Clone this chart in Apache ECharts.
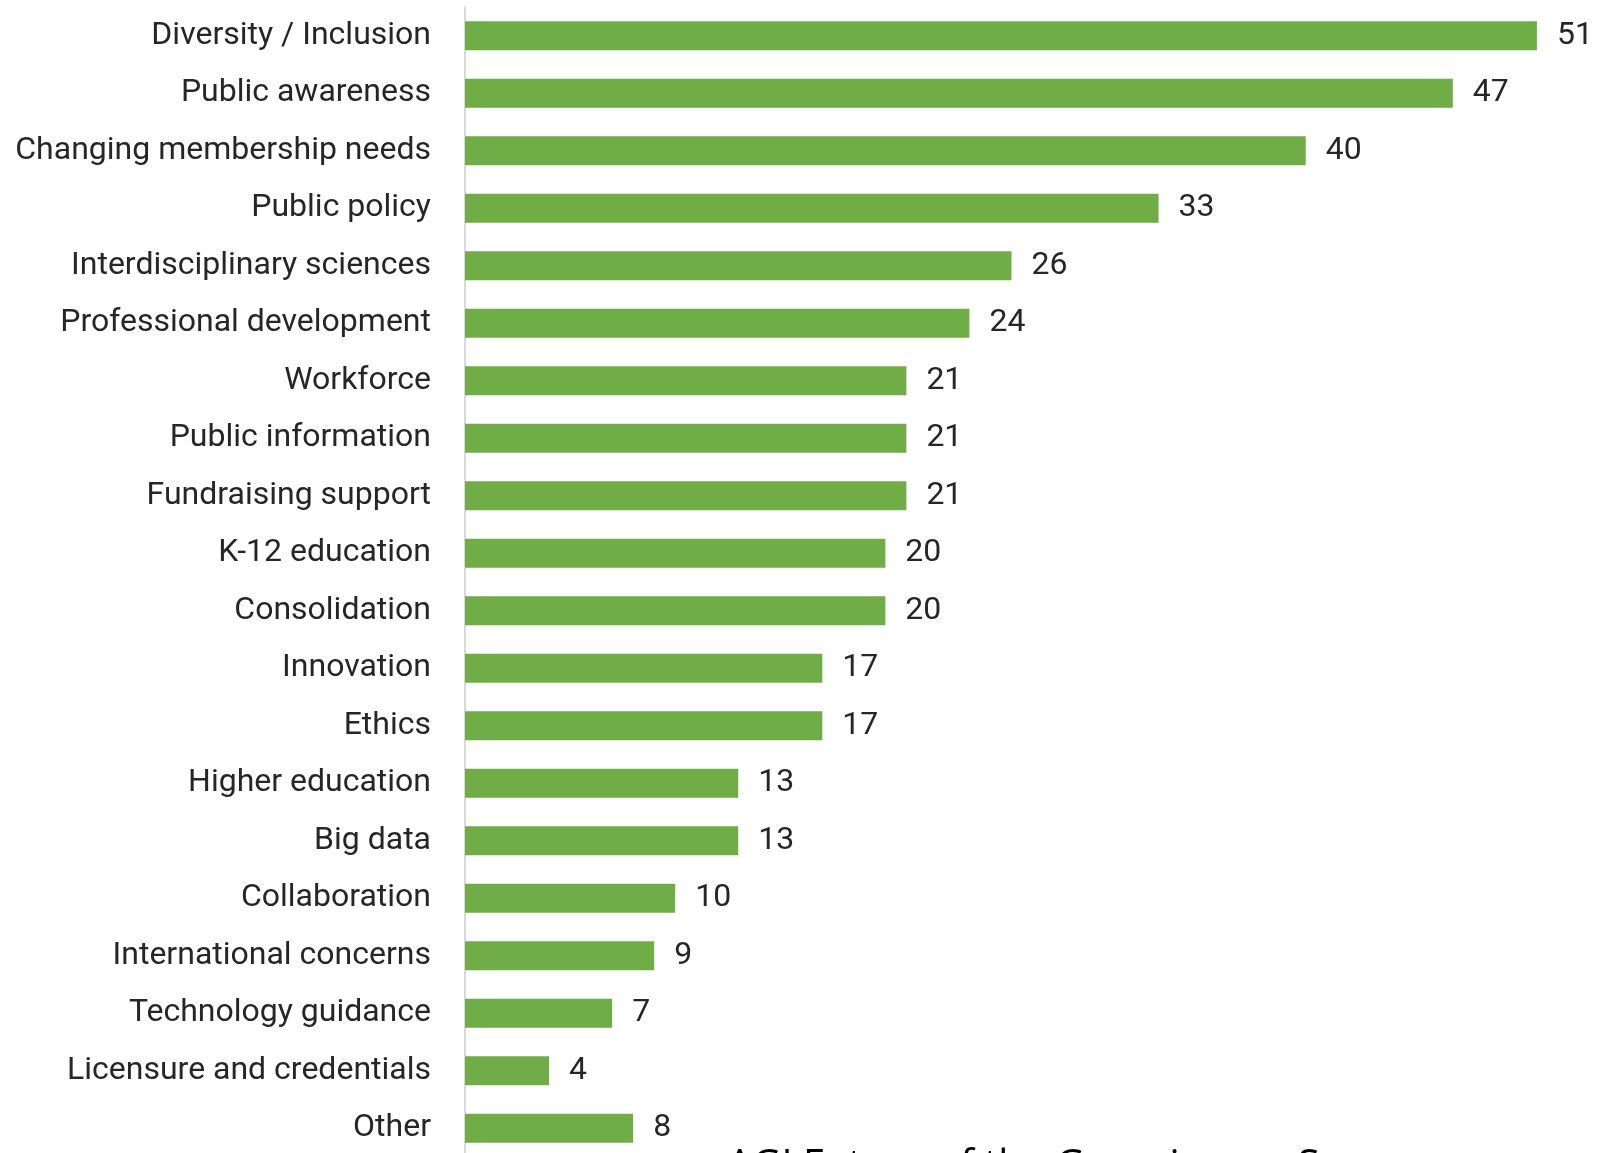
<!DOCTYPE html>
<html>
<head>
<meta charset="utf-8">
<script src="https://cdn.jsdelivr.net/npm/echarts@6/dist/echarts.min.js"></script>
<style>
  html, body { margin: 0; padding: 0; background: #fff; overflow: hidden; }
  #chart { width: 1622px; height: 1162px; }
</style>
</head>
<body>
<div id="chart"></div>
<script>
// categories, top to bottom
const categories = [
  "Diversity / Inclusion",
  "Public awareness",
  "Changing membership needs",
  "Public policy",
  "Interdisciplinary sciences",
  "Professional development",
  "Workforce",
  "Public information",
  "Fundraising support",
  "K-12 education",
  "Consolidation",
  "Innovation",
  "Ethics",
  "Higher education",
  "Big data",
  "Collaboration",
  "International concerns",
  "Technology guidance",
  "Licensure and credentials",
  "Other"
];
const counts = [51, 47, 40, 33, 26, 24, 21, 21, 21, 20, 20, 17, 17, 13, 13, 10, 9, 7, 4, 8];
const footnote = "AGI Future of the Geosciences Survey";

const myChart = echarts.init(document.getElementById("chart"));

const options = {
  animation: false,
  grid: {
    left: 465,
    right: 1,
    top: 7,
    height: 1150,
    containLabel: false,
  },
  xAxis: {
    type: "value",
    min: 0,
    max: 55,
    show: false,
  },
  yAxis: {
    type: "category",
    inverse: true, // first category on top
    data: categories,
    axisTick: { show: false },
    axisLine: { show: true, lineStyle: { color: "#d9d9d9", width: 2 } },
    axisLabel: {
      margin: 34,
      fontFamily: "Roboto",
      fontSize: 32,
      color: "#262626",
    },
  },
  series: [
    {
      type: "bar",
      data: counts,
      barWidth: 29,
      itemStyle: { color: "#70AD47" },
      label: {
        show: true,
        position: "right",
        distance: 20,
        fontFamily: "Roboto",
        fontSize: 32,
        color: "#262626",
      },
    },
  ],
  graphic: [
    {
      type: "text",
      left: 727,
      top: 1147,
      z: 100,
      style: {
        text: footnote,
        font: "40px 'Open Sans'",
        fill: "#000",
      },
    },
  ],
};

myChart.setOption(options);
</script>
</body>
</html>
